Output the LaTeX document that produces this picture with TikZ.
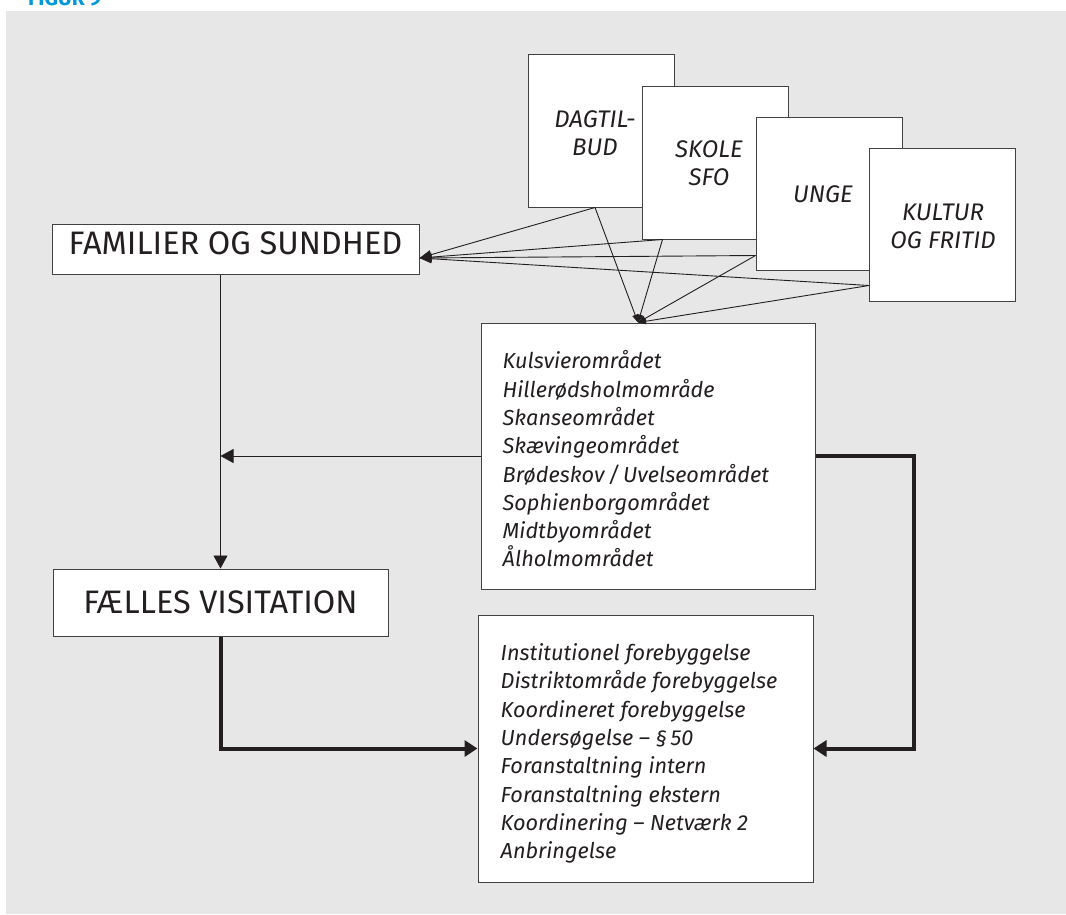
\documentclass[tikz,border=0pt]{standalone}
\usepackage{fontspec}
\setmainfont{Fira Sans}
\usetikzlibrary{arrows.meta,calc}
\definecolor{bg}{RGB}{230,231,230}
\definecolor{figblue}{RGB}{0,152,214}
\definecolor{ink}{RGB}{35,31,32}
\begin{document}
\begin{tikzpicture}[x=1pt,y=-1pt,
  box/.style={draw=ink!85, line width=1pt, fill=white, inner sep=0pt},
  big/.style={font=\fontsize{32.5}{36}\selectfont},
  toplbl/.style={font=\fontsize{24}{27.5}\selectfont\itshape, align=center, inner sep=0pt, text=ink},
  list/.style={font=\fontsize{21.7}{28.3}\selectfont\itshape, align=left, inner sep=0pt, anchor=north west, text=ink},
  fanline/.style={draw=ink, line width=0.9pt, -{Triangle[length=12pt,width=9pt]}},
  fanlinesmall/.style={draw=ink, line width=0.9pt, -{Triangle[length=8pt,width=6pt]}},
  bigarrow/.style={draw=ink, line width=0.9pt, -{Triangle[length=13pt,width=14pt]}},
  heavy/.style={draw=ink, line width=4pt, -{Triangle[length=13pt,width=16pt]}}]
\useasboundingbox (0,0) rectangle (1066,914);
\fill[bg] (6,11) rectangle (1066,914);
\node[font=\bfseries\fontsize{21}{21}\selectfont, text=figblue, anchor=base west, inner sep=0pt] (title) at (28,5) {FIGUR 9};

% main boxes
\node[box, big, minimum width=367pt, minimum height=50pt, text depth=12pt, text=ink] (fam) at (235.5,249) {FAMILIER OG SUNDHED};
\node[box, big, minimum width=335pt, minimum height=67pt, text=ink] (fv) at (220.5,602.5) {FÆLLES VISITATION};
\node[box, minimum width=334pt, minimum height=266pt] (kul) at (648,456) {};
\node[box, minimum width=335pt, minimum height=267pt] (box2) at (645.5,748.5) {};

% top stacked boxes
\node[box, minimum width=146pt, minimum height=153pt] (dag) at (601,130.5) {};
\node[toplbl] (dagt) at (595,133) {DAGTIL-\\BUD};
\node[box, minimum width=146pt, minimum height=153pt] (sko) at (715,162.5) {};
\node[toplbl] (skot) at (709,163) {SKOLE\\SFO};
\node[box, minimum width=146pt, minimum height=153pt] (ung) at (829,193.5) {};
\node[toplbl] (ungt) at (823,194) {UNGE};
\node[box, minimum width=146pt, minimum height=153pt] (kf) at (942.5,224.5) {};
\node[toplbl] (kft) at (943,226.5) {KULTUR\\OG FRITID};

% list texts
\node[list] (kultxt) at ([xshift=22pt,yshift=-28pt]kul.north west) {Kulsvierområdet\\Hillerødsholmområde\\Skanseområdet\\Skævingeområdet\\Brødeskov\,/\,Uvelseområdet\\Sophienborgområdet\\Midtbyområdet\\Ålholmområdet};
\node[list] (b2txt) at ([xshift=23pt,yshift=-29pt]box2.north west) {Institutionel forebyggelse\\Distriktområde forebyggelse\\Koordineret forebyggelse\\Undersøgelse – §\,50\\Foranstaltning intern\\Foranstaltning ekstern\\Koordinering – Netværk 2\\Anbringelse};

% fan connectors
\coordinate (d1) at ([xshift=-6pt]dag.south);
\coordinate (s1) at ([xshift=21pt]sko.south west);
\coordinate (u1) at ([yshift=15pt]ung.south west);
\coordinate (k1) at ([yshift=16pt]kf.south west);
\coordinate (famtip) at ([yshift=-9pt]fam.east);
\coordinate (kultip) at ([xshift=-10pt]kul.north);
\foreach \s in {d1,s1,u1,k1}{
  \draw[fanline] (\s) -- (famtip);
  \draw[fanlinesmall] (\s) -- (kultip);
}

% flow connectors
\draw[bigarrow] (fam.south -| fv.north) -- (fv.north);
\draw[bigarrow] (kul.west) -- (kul.west -| fv.north);
\draw[heavy] (fv.south) |- (box2.west);
\coordinate (rt) at (914,456);
\draw[heavy] (kul.east) -- (kul.east -| rt) |- (box2.east);
\end{tikzpicture}
\end{document}
